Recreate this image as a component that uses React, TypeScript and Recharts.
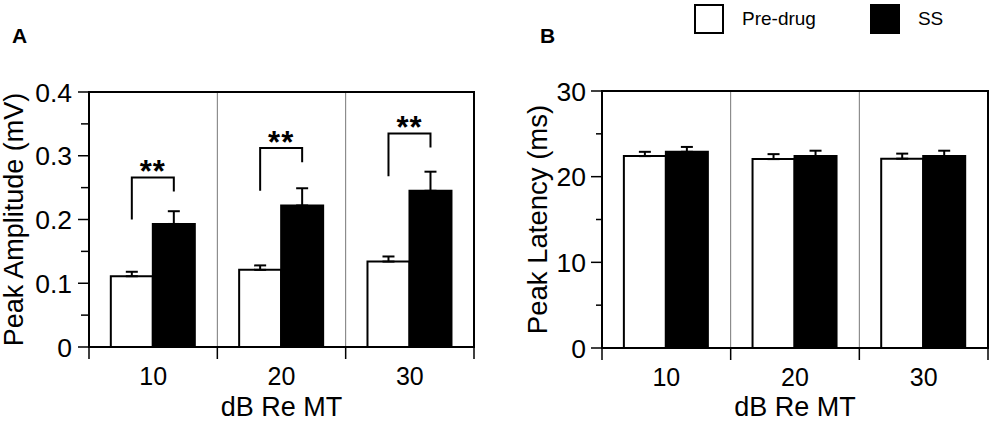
import { Bar, BarChart, CartesianGrid, ErrorBar, Legend, ReferenceArea, XAxis, YAxis } from 'recharts'

const FONT = '"Liberation Sans", Arial, Helvetica, sans-serif'

const levels = ['10', '20', '30']

// Panel A - peak amplitude (mV)
const ampPre = [0.111, 0.121, 0.134]
const ampPreErr = [0.007, 0.007, 0.008]
const ampSS = [0.193, 0.222, 0.245]
const ampSSErr = [0.02, 0.027, 0.03]
const ampTicks = [0, 0.05, 0.1, 0.15, 0.2, 0.25, 0.3, 0.35, 0.4]
const ampMajor = [0, 0.1, 0.2, 0.3, 0.4]

// significance brackets (mV): left leg end, top, right leg end
const bracketLeft = [0.2, 0.245, 0.268]
const bracketTop = [0.266, 0.312, 0.335]
const bracketRight = [0.244, 0.29, 0.313]
const bracketMark = ['**', '**', '**']

// Panel B - peak latency (ms)
const latPre = [22.4, 22.05, 22.1]
const latPreErr = [0.5, 0.58, 0.59]
const latSS = [22.9, 22.4, 22.4]
const latSSErr = [0.57, 0.63, 0.63]
const latTicks = [0, 5, 10, 15, 20, 25, 30]
const latMajor = [0, 10, 20, 30]

const ampData = levels.map((level, i) => ({
  level,
  pre: ampPre[i],
  preErr: [0, ampPreErr[i]],
  ss: ampSS[i],
  ssErr: [0, ampSSErr[i]],
}))

const latData = levels.map((level, i) => ({
  level,
  pre: latPre[i],
  preErr: [0, latPreErr[i]],
  ss: latSS[i],
  ssErr: [0, latSSErr[i]],
}))

const X_TICK_SIZE = 8
const X_TICK_MARGIN = 12

// y ticks: long tick + label on majors, short tick on minors
function makeYTick(major: number[], size: number, minorSize: number, margin: number) {
  return (props: any) => {
    const { x, y, payload } = props
    const axisX = x + size + margin
    const isMajor = major.includes(payload.value)
    return (
      <g>
        <line x1={axisX - (isMajor ? size : minorSize)} x2={axisX} y1={y} y2={y} stroke="#000" strokeWidth={1.5} />
        {isMajor && (
          <text x={x} y={y} dy="0.36em" textAnchor="end" fontSize={26.5} fill="#000" fontFamily={FONT}>
            {payload.value}
          </text>
        )}
      </g>
    )
  }
}

// x ticks: label at the category centre, tick marks at the category edges
const renderLevelTick = (props: any) => {
  const { x, y, payload } = props
  const axisY = y - X_TICK_SIZE - X_TICK_MARGIN
  const half = payload.offset ?? 0
  const last = payload.index === levels.length - 1
  return (
    <g>
      <line x1={x - half} x2={x - half} y1={axisY} y2={axisY + 12} stroke="#000" strokeWidth={1.5} />
      {last && <line x1={x + half} x2={x + half} y1={axisY} y2={axisY + 12} stroke="#000" strokeWidth={1.5} />}
      <text x={x} y={y} dy="0.71em" textAnchor="middle" fontSize={25} fill="#000" fontFamily={FONT}>
        {payload.value}
      </text>
    </g>
  )
}

// divider lines between the dB levels, from the band scale of the x axis
const bandEdges = (props: any) => {
  const scale = props?.xAxis?.scale
  if (!scale) return []
  try {
    if (typeof scale.map === 'function') return levels.slice(1).map((l) => scale.map(l))
    if (typeof scale === 'function') return levels.slice(1).map((l) => scale(l))
    const [r0, r1] = scale.range()
    return levels.slice(1).map((_, i) => r0 + ((i + 1) * (r1 - r0)) / levels.length)
  }
  catch {
    return []
  }
}

const renderBracket = (props: any) => {
  const box = props.viewBox && props.viewBox.height != null ? props.viewBox : props
  const { x, y, width, height } = box
  const i = props.index
  const base = y + height
  const toY = (v: number) => base - (v / ampSS[i]) * height
  const left = x - width / 2
  const right = x + width / 2
  const top = toY(bracketTop[i])
  return (
    <g key={`bracket-${i}`}>
      <path
        d={`M${left},${toY(bracketLeft[i])}V${top}H${right}V${toY(bracketRight[i])}`}
        fill="none"
        stroke="#000"
        strokeWidth={2}
      />
      <text
        x={(left + right) / 2}
        y={top + 5}
        textAnchor="middle"
        fontSize={31}
        fontWeight="bold"
        letterSpacing={1}
        fill="#000"
        fontFamily={FONT}
      >
        {bracketMark[i]}
      </text>
    </g>
  )
}

const renderLegend = (props: any) => (
  <div style={{ display: 'flex', alignItems: 'center', fontFamily: FONT, fontSize: 19, color: '#000' }}>
    {(props.payload || []).map((entry: any, i: number) => (
      <div key={entry.value} style={{ display: 'flex', alignItems: 'center', marginRight: i === 0 ? 54 : 0 }}>
        <span
          style={{
            display: 'inline-block',
            width: 30,
            height: 30,
            boxSizing: 'border-box',
            border: '2px solid #000',
            background: entry.color,
            marginRight: 18,
          }}
        />
        <span>{entry.value}</span>
      </div>
    ))}
  </div>
)

const titleStyle = { fill: '#000', fontSize: 27, fontFamily: FONT }

function AmplitudeChart() {
  return (
    <BarChart
      width={490}
      height={421}
      data={ampData}
      margin={{ top: 92, right: 16, bottom: 73, left: 0 }}
      barCategoryGap="17%"
      barGap={0}
      style={{ fontFamily: FONT }}
    >
      <CartesianGrid horizontal={false} verticalCoordinatesGenerator={bandEdges} stroke="#777" strokeWidth={1} />
      <XAxis
        dataKey="level"
        height={1}
        axisLine={false}
        tickLine={false}
        tickSize={X_TICK_SIZE}
        tickMargin={X_TICK_MARGIN}
        tick={renderLevelTick}
        label={{ value: 'dB Re MT', position: 'bottom', offset: 49, style: titleStyle }}
      />
      <YAxis
        width={89}
        domain={[0, 0.4]}
        ticks={ampTicks}
        interval={0}
        axisLine={false}
        tickLine={false}
        tickSize={11}
        tickMargin={6}
        tick={makeYTick(ampMajor, 11, 8, 6)}
        label={{
          value: 'Peak Amplitude (mV)',
          angle: -90,
          position: 'insideLeft',
          offset: 13,
          style: { ...titleStyle, textAnchor: 'middle' },
        }}
      />
      <ReferenceArea y1={0} y2={0.4} fill="none" stroke="#000" strokeWidth={2} />
      <Bar dataKey="pre" name="Pre-drug" fill="#fff" stroke="#000" strokeWidth={2} isAnimationActive={false}>
        <ErrorBar dataKey="preErr" width={6} stroke="#000" strokeWidth={2} />
      </Bar>
      <Bar dataKey="ss" name="SS" fill="#000" stroke="#000" strokeWidth={2} isAnimationActive={false} label={renderBracket}>
        <ErrorBar dataKey="ssErr" width={6} stroke="#000" strokeWidth={2} />
      </Bar>
    </BarChart>
  )
}

function LatencyChart() {
  return (
    <BarChart
      width={492}
      height={421}
      data={latData}
      margin={{ top: 91, right: 4, bottom: 72, left: 0 }}
      barCategoryGap="17%"
      barGap={0}
      style={{ fontFamily: FONT }}
    >
      <CartesianGrid horizontal={false} verticalCoordinatesGenerator={bandEdges} stroke="#777" strokeWidth={1} />
      <XAxis
        dataKey="level"
        height={1}
        axisLine={false}
        tickLine={false}
        tickSize={X_TICK_SIZE}
        tickMargin={X_TICK_MARGIN}
        tick={renderLevelTick}
        label={{ value: 'dB Re MT', position: 'bottom', offset: 48, style: titleStyle }}
      />
      <YAxis
        width={102}
        domain={[0, 30]}
        ticks={latTicks}
        interval={0}
        axisLine={false}
        tickLine={false}
        tickSize={11}
        tickMargin={5}
        tick={makeYTick(latMajor, 11, 6, 5)}
        label={{
          value: 'Peak Latency (ms)',
          angle: -90,
          position: 'insideLeft',
          offset: 37,
          style: { ...titleStyle, fontSize: 27.5, textAnchor: 'middle' },
        }}
      />
      <ReferenceArea y1={0} y2={30} fill="none" stroke="#000" strokeWidth={2} />
      <Legend
        layout="horizontal"
        verticalAlign="middle"
        align="center"
        wrapperStyle={{ position: 'absolute', top: 4, left: 194, width: 'auto' }}
        content={renderLegend}
      />
      <Bar dataKey="pre" name="Pre-drug" fill="#fff" stroke="#000" strokeWidth={2} isAnimationActive={false}>
        <ErrorBar dataKey="preErr" width={6} stroke="#000" strokeWidth={2} />
      </Bar>
      <Bar dataKey="ss" name="SS" fill="#000" stroke="#000" strokeWidth={2} isAnimationActive={false}>
        <ErrorBar dataKey="ssErr" width={6} stroke="#000" strokeWidth={2} />
      </Bar>
    </BarChart>
  )
}

export default function App() {
  return (
    <div style={{ position: 'absolute', left: 0, top: 0, width: 992, height: 421, background: '#fff', fontFamily: FONT }}>
      <svg width={992} height={50} style={{ position: 'absolute', left: 0, top: 0 }}>
        <text x={12} y={43} fontSize={21} fontWeight="bold" fill="#000" fontFamily={FONT}>A</text>
        <text x={540} y={42.5} fontSize={21} fontWeight="bold" fill="#000" fontFamily={FONT}>B</text>
      </svg>
      <div style={{ position: 'absolute', left: 0, top: 0 }}>
        <AmplitudeChart />
      </div>
      <div style={{ position: 'absolute', left: 500, top: 0 }}>
        <LatencyChart />
      </div>
    </div>
  )
}
